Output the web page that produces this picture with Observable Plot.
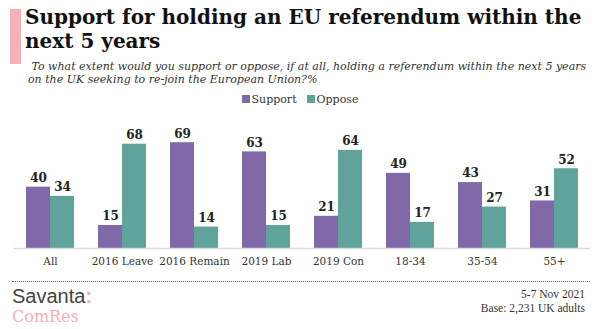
<!DOCTYPE html>
<html><head><meta charset="utf-8">
<script src="https://cdn.jsdelivr.net/npm/d3@7"></script>
<script src="https://cdn.jsdelivr.net/npm/@observablehq/plot@0.6"></script>
<style>
body{margin:0;width:600px;height:329px;background:#fff;position:relative;overflow:hidden;font-family:"DejaVu Serif",serif;}
#bar{position:absolute;left:10px;top:9px;width:11px;height:55px;background:#f5b1b7;}
#title{position:absolute;left:25px;top:5px;width:570px;font-weight:bold;font-size:20px;line-height:24px;color:#111;}
#sub{position:absolute;left:28px;top:60px;width:572px;font-style:italic;font-size:11px;line-height:13px;color:#333;white-space:nowrap;}
#legend{position:absolute;left:0;top:93px;width:600px;text-align:center;font-size:11px;color:#333;}
#legend span.sw{display:inline-block;width:8px;height:8px;margin-right:2px;vertical-align:0px;}
#legend span.it{margin:0 5px;}
#chart{position:absolute;left:0;top:108px;}
#dots{position:absolute;left:12px;top:281px;width:578px;border-top:1.5px dotted #666;}
#logo1{position:absolute;left:12px;top:286px;font-family:"Liberation Sans",sans-serif;font-size:20px;line-height:20px;color:#444;}
#logo1 b{color:#f5a9b1;}
#logo2{position:absolute;left:12px;top:309px;font-family:"DejaVu Serif",serif;font-size:16px;line-height:16px;color:#f5b1b7;}
#foot{position:absolute;right:15px;top:287px;text-align:right;font-family:"Liberation Serif",serif;font-size:11.5px;line-height:14px;color:#333;}
</style></head>
<body>
<div id="bar"></div>
<div id="title">Support for holding an EU referendum within the next 5 years</div>
<div id="sub">&nbsp;To what extent would you support or oppose, if at all, holding a referendum within the next 5 years<br>on the UK seeking to re-join the European Union?%</div>
<div id="legend"></div>
<div id="chart"></div>
<div id="dots"></div>
<div id="logo1">Savanta<b>:</b></div>
<div id="logo2">ComRes</div>
<div id="foot">5-7 Nov 2021<br>Base: 2,231 UK adults</div>
<script>
const categories = ["All","2016 Leave","2016 Remain","2019 Lab","2019 Con","18-34","35-54","55+"];
const series = ["Support","Oppose"];
const support = [40,15,69,63,21,49,43,31];
const oppose = [34,68,14,15,64,17,27,52];
const colors = ["#7f69a8","#5fa39a"];

const data = categories.flatMap((c,i)=>[
  {cat:c, series:"Support", value:support[i]},
  {cat:c, series:"Oppose", value:oppose[i]}
]);

const leg = document.getElementById("legend");
series.forEach((s,i)=>{
  const it = document.createElement("span"); it.className="it";
  const sw = document.createElement("span"); sw.className="sw"; sw.style.background=colors[i];
  it.appendChild(sw); it.appendChild(document.createTextNode(s));
  leg.appendChild(it);
});

const chart = Plot.plot({
  width: 600, height: 162,
  marginTop: 25, marginBottom: 22, marginLeft: 12, marginRight: 8,
  style: {fontFamily: "DejaVu Serif", fontSize: "10.5px", color: "#333", background: "transparent"},
  facet: {data: data, x: "cat"},
  fx: {domain: categories, paddingInner: 0.33, paddingOuter: 0.165, axis: "bottom", label: null, tickSize: 0, tickPadding: 9},
  x: {domain: series, axis: null, padding: 0},
  y: {domain: [0, 75], axis: null},
  color: {domain: series, range: colors},
  marks: [
    Plot.barY(data, {x: "series", y: "value", fill: "series"}),
    Plot.ruleY([0], {stroke: "#d9d9d9", strokeWidth: 1.5, insetLeft: -12.2, insetRight: -12.2}),
    Plot.text(data, {x: "series", y: "value", text: "value", dy: -9, fontWeight: "bold", fontSize: 12, fill: "#222"})
  ]
});
document.getElementById("chart").appendChild(chart);
</script>
</body></html>
